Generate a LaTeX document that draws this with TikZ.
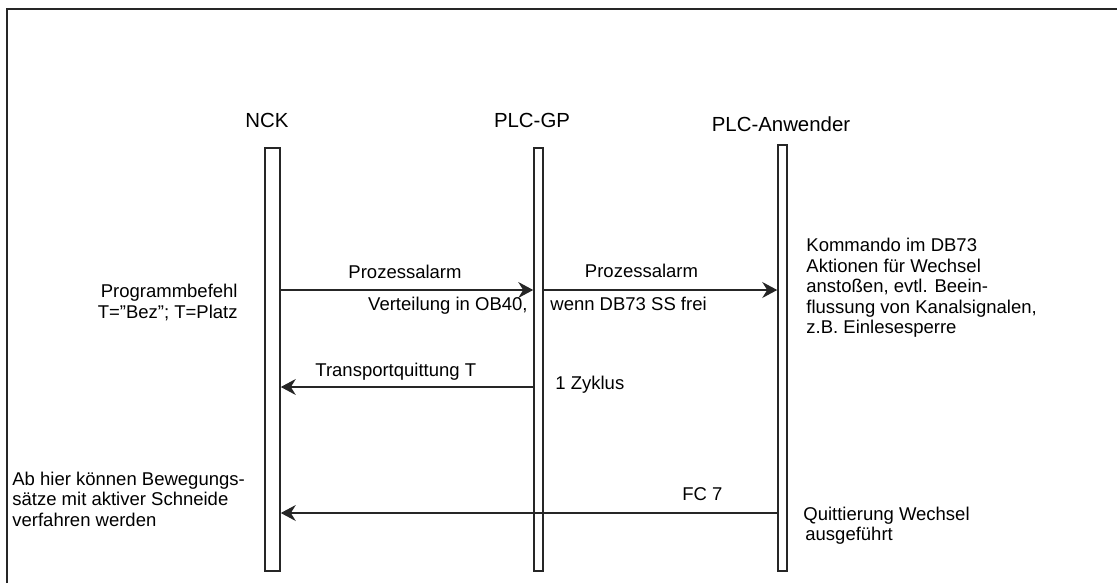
\documentclass[tikz,border=0pt]{standalone}
\usepackage{fontspec}
\setmainfont{Liberation Sans}
\usetikzlibrary{arrows.meta, positioning}

\begin{document}
\begin{tikzpicture}[
  x=0.5pt, y=-0.5pt,
  lifeline/.style={draw=black!85, line width=0.8pt, inner sep=0pt,
                   minimum height=211.5pt},
  head/.style={font=\fontsize{10.2}{12}\selectfont, anchor=base, inner sep=0pt},
  lbl/.style={font=\fontsize{9.25}{10.25}\selectfont, inner sep=0pt},
  note/.style={lbl, align=left},
  msg/.style={-{Stealth[length=7.5pt, width=8pt, inset=2.5pt]},
              line width=0.55pt, draw=black!85}
]
\useasboundingbox (0,0) rectangle (1117,583);
\draw[line width=1pt, black!85] (7,583) -- (7,9) -- (1117,9);

% lifelines
\node[lifeline, minimum width=7.5pt] (nck) at (272.5,359.5) {};
\node[lifeline, minimum width=4.5pt] (gp)  at (538.5,359.5) {};
\node[lifeline, minimum width=4.5pt, minimum height=213pt] (anw) at (782.5,358) {};

\node[head] (nckname) at (267,127) {NCK};
\node[head] (gpname)  at (532,127) {PLC-GP};
\node[head] (anwname) at (781,132) {PLC-Anwender};

% message levels
\coordinate (m1) at (0,290);
\coordinate (m2) at (0,387);
\coordinate (m3) at (0,513);

\draw[msg] (nck.east |- m1) -- (gp.west |- m1);
\draw[msg] (gp.east |- m1)  -- (anw.west |- m1);
\draw[msg] (gp.west |- m2)  -- (nck.east |- m2);
\draw[msg] (anw.west |- m3) -- (nck.east |- m3);

% labels
\node[lbl, anchor=base]      (alarm1) at (405,278) {Prozessalarm};
\node[lbl, anchor=base east] (ob40)   at (528,310) {Verteilung in OB40,};
\node[lbl, anchor=base]      (alarm2) at (641.5,277) {Prozessalarm};
\node[lbl, anchor=base west] (ssfrei) at (550,310) {wenn DB73 SS frei};
\node[lbl, anchor=base west] (tquit)  at (315,376) {Transportquittung T};
\node[lbl, anchor=base west] (zyklus) at (555,389) {1 Zyklus};
\node[lbl, anchor=base west] (fc)     at (682,500) {FC 7};

% notes
\node[note, anchor=north east, align=right] (befehl) at (238,284)
  {Programmbefehl\\T=”Bez”; T=Platz};
\node[note, anchor=north west] (kommando) at (806,238)
  {Kommando im DB73\\Aktionen für Wechsel\\anstoßen, evtl. Beein-\\flussung von Kanalsignalen,\\z.B. Einlesesperre};
\node[note, anchor=north west] (abhier) at (12,471.5)
  {Ab hier können Bewegungs-\\sätze mit aktiver Schneide\\verfahren werden};
\node[note, anchor=north west] (quitt) at (803,506.5)
  {Quittierung Wechsel\\\hspace{1pt}ausgeführt};
\end{tikzpicture}
\end{document}
